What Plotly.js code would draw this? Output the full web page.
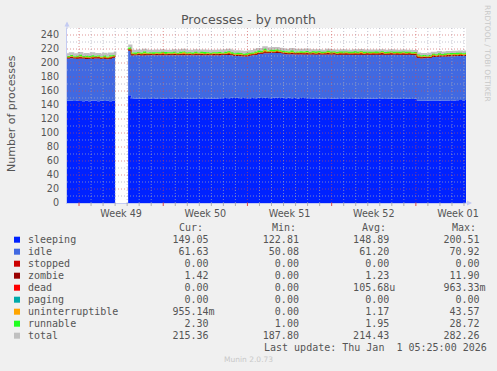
<!DOCTYPE html>
<html><head><meta charset="utf-8">
<script src="https://cdn.plot.ly/plotly-3.0.1.min.js"></script>
<style>html,body{margin:0;padding:0;background:#f0f0f0;}#chart{width:497px;height:371px;}</style>
</head><body><div id="chart"></div>
<script>
// ---------- legend / statistics ----------
const seriesNames = ['sleeping','idle','stopped','zombie','dead','paging','uninterruptible','runnable','total'];
const seriesColors = ['#0022ff','#4169e1','#cc0000','#990000','#ff0000','#00aaaa','#ffa500','#22ff22','#c0c0c0'];
const curVals = ['149.05','61.63','0.00','1.42','0.00','0.00','955.14m','2.30','215.36'];
const minVals = ['122.81','50.08','0.00','0.00','0.00','0.00','0.00','1.00','187.80'];
const avgVals = ['148.89','61.20','0.00','1.23','105.68u','0.00','1.17','1.95','214.43'];
const maxVals = ['200.51','70.92','0.00','11.90','963.33m','0.00','43.57','28.72','282.26'];
const statHeaders = ['Cur:','Min:','Avg:','Max:'];
const lastUpdate = 'Last update: Thu Jan  1 05:25:00 2026';

// ---------- axes ----------
const weekLabels = ['Week 49','Week 50','Week 51','Week 52','Week 01'];
const weekLabelDates = ['2025-12-03 12:00','2025-12-10 12:00','2025-12-17 12:00','2025-12-24 12:00','2025-12-31 12:00'];
const yTicks = [0,20,40,60,80,100,120,140,160,180,200,220,240];
const xRange = ['2025-11-29 00:00','2026-01-01 04:00'];
const yRange = [0,250];

// ---------- series (6-hour samples) ----------
const stepHours = 6;
const segAStart = '2025-11-29 00:00';
const segBStart = '2025-12-04 02:00';

const sleepingA = [146.2,146.0,145.6,146.4,145.8,145.2,146.0,145.5,146.3,145.9,145.4,146.1,145.7,146.0,145.3,146.6,146.8];
const idleA = [60.2,60.8,61.0,59.8,60.5,61.2,59.6,60.4,59.9,60.6,61.1,59.7,60.3,59.5,60.9,61.0,62.5];
const zombieA = [1.1,1.2,1.0,1.3,1.2,1.1,1.4,1.2,1.0,1.3,1.2,1.1,1.2,1.3,1.0,1.2,1.1];
const uninterruptibleA = [0.8,1.4,0.6,1.0,1.9,0.7,1.2,0.9,1.5,0.6,1.1,0.8,1.3,0.7,1.6,0.9,1.2];
const runnableA = [1.8,2.2,1.6,2.0,2.4,1.7,2.1,1.9,2.5,1.8,2.0,1.6,2.3,1.9,2.2,1.7,2.6];
const totalA = [212.0,213.4,211.9,212.3,214.0,211.6,212.5,211.8,213.5,212.1,212.6,211.2,212.9,211.3,213.2,213.3,216.5];

const sleepingB = [
 154.0,149.6,149.2,148.8,149.4,149.0,148.6,149.3,149.8,149.1,
 148.7,149.2,148.9,149.5,149.0,148.5,149.1,149.6,148.8,149.3,
 148.9,149.4,149.0,148.6,149.2,149.7,149.1,148.8,149.3,149.0,
 149.5,149.8,150.1,149.6,150.2,149.9,150.4,149.7,150.0,149.5,
 149.8,150.1,149.6,150.3,149.9,150.5,150.0,149.7,150.2,150.6,
 149.9,150.2,149.8,150.3,149.6,150.0,149.4,149.9,150.1,149.5,
 149.8,149.3,149.7,149.0,149.4,148.9,149.5,149.2,148.8,149.3,
 149.6,149.0,148.7,149.2,149.5,148.9,149.3,148.6,149.1,149.4,
 148.8,149.2,148.9,149.5,149.0,148.7,149.3,149.1,148.8,149.4,
 149.0,148.7,149.2,148.9,148.5,148.8,146.3,146.0,146.5,146.2,
 145.9,146.4,146.1,146.6,146.3,146.0,146.5,146.8,146.4,146.9,
 147.2,146.8,147.0,147.3];
const idleB = [
 63.5,61.1,61.7,62.3,61.4,61.9,62.5,61.6,61.2,62.0,
 62.4,61.8,62.3,61.5,62.1,62.7,61.9,61.3,62.4,61.7,
 62.2,61.6,62.1,62.6,61.8,61.2,61.9,62.3,61.5,62.0,
 61.3,61.6,61.2,61.7,60.9,60.2,59.6,59.9,59.3,59.8,
 60.4,60.9,61.8,62.4,63.2,63.5,64.1,64.6,64.0,63.8,
 64.3,63.2,62.6,62.1,62.8,62.3,62.9,62.4,62.0,62.7,
 62.2,62.8,62.3,63.0,62.6,63.2,62.5,62.9,63.3,62.6,
 62.2,62.9,63.2,62.6,62.3,63.0,62.5,63.2,62.7,62.4,
 63.0,62.6,63.0,62.3,62.8,63.1,62.5,62.8,63.2,62.4,
 62.8,63.1,62.5,62.9,63.0,62.4,60.7,60.5,60.3,60.8,
 61.2,62.2,62.6,62.4,62.9,63.3,62.8,62.9,63.4,63.1,
 62.8,63.2,63.0,62.8];
const zombieB = [
 1.5,1.2,1.1,1.3,1.2,1.0,1.4,1.2,1.3,1.1,
 1.2,1.4,1.1,1.2,1.3,1.0,1.2,1.5,1.1,1.3,
 1.2,1.1,1.4,1.2,1.0,1.3,1.2,1.1,1.4,1.2,
 1.3,1.1,1.2,1.5,1.2,1.0,1.3,1.2,1.4,1.1,
 1.2,1.3,1.1,1.4,1.2,1.5,1.3,1.1,1.2,1.4,
 1.1,1.2,1.3,1.0,1.2,1.4,1.1,1.3,1.2,1.1,
 1.4,1.2,1.0,1.3,1.2,1.1,1.4,1.2,1.3,1.0,
 1.2,1.3,1.1,1.4,1.2,1.0,1.3,1.2,1.1,1.4,
 1.2,1.1,1.3,1.2,1.5,1.1,1.2,1.3,1.0,1.2,
 1.3,1.1,1.2,1.4,1.2,1.1,1.3,1.5,1.2,1.1,
 1.2,1.4,1.1,1.3,1.2,1.0,1.3,1.2,1.4,1.1,
 1.3,1.2,1.4,1.4];
const uninterruptibleB = [
 0.8,1.2,0.6,1.5,0.9,2.1,0.7,1.1,0.5,1.4,
 0.9,1.8,0.6,1.2,0.8,1.6,0.7,1.0,2.3,0.8,
 1.1,0.6,1.4,0.9,1.7,0.7,1.2,0.5,1.3,0.9,
 1.5,0.8,1.1,2.0,0.7,1.2,0.9,1.6,0.6,1.0,
 1.3,0.7,1.8,0.9,1.1,2.4,0.8,1.3,0.6,1.5,
 1.0,0.7,1.4,0.9,1.9,0.6,1.2,0.8,1.1,1.7,
 0.7,1.3,0.9,1.5,0.6,1.1,2.0,0.8,1.2,0.7,
 1.4,0.9,1.6,0.6,1.0,1.3,0.8,2.2,0.7,1.1,
 0.9,1.5,0.7,1.2,1.8,0.6,1.0,1.4,0.8,1.3,
 0.7,1.6,0.9,1.1,0.6,1.4,1.9,0.8,1.2,0.7,
 1.0,1.5,0.8,1.3,0.6,1.1,1.7,0.9,1.2,0.8,
 1.4,0.9,1.1,1.0];
const runnableB = [
 2.5,1.9,2.3,1.7,2.1,2.6,1.8,2.0,2.4,1.6,
 2.2,1.9,2.7,1.8,2.0,2.3,1.7,2.5,1.9,2.1,
 1.8,2.4,2.0,1.6,2.2,2.8,1.9,2.1,1.7,2.3,
 2.0,1.8,2.5,1.9,2.2,1.7,2.4,2.0,1.8,2.6,
 2.1,1.9,2.3,2.7,2.0,2.4,1.8,2.2,2.9,2.1,
 1.9,2.3,1.7,2.1,2.5,1.8,2.0,2.4,1.9,2.2,
 1.7,2.1,2.6,1.9,2.3,1.8,2.0,2.5,1.7,2.2,
 2.0,2.4,1.8,2.2,1.9,2.6,2.1,1.7,2.3,1.9,
 2.2,1.8,2.5,2.0,1.7,2.3,2.1,1.9,2.4,1.8,
 2.1,1.9,2.3,1.7,2.2,2.0,1.8,2.4,2.1,1.9,
 2.3,1.7,2.0,2.5,1.9,2.2,1.8,2.4,2.0,2.6,
 2.1,1.9,2.3,2.2];
const totalB = [
 224.5,217.0,216.9,217.5,217.0,218.5,217.2,217.3,217.1,217.4,
 217.2,218.0,217.3,217.1,217.0,218.0,216.5,217.8,218.4,217.0,
 217.0,216.9,217.8,216.7,217.6,217.5,217.2,216.6,217.1,217.3,
 217.4,217.0,218.0,218.5,217.0,215.8,216.3,216.2,215.0,215.8,
 216.6,216.8,218.5,219.6,219.3,222.0,220.1,220.8,221.0,221.2,
 220.0,219.4,218.6,218.2,219.8,217.9,218.4,218.6,218.1,219.0,
 217.0,217.9,217.7,217.9,217.3,217.3,218.6,217.8,217.5,217.0,
 217.6,217.7,217.6,217.2,217.1,218.0,217.2,218.1,217.1,217.4,
 217.3,217.4,217.6,217.4,218.0,217.0,217.3,217.7,217.4,217.3,
 217.1,217.6,217.3,217.2,216.7,216.9,213.2,212.4,212.5,211.9,
 212.8,214.4,213.8,215.3,214.1,214.8,215.3,215.4,215.6,215.7,
 216.0,215.2,216.0,215.9];

// ---------- helpers ----------
function toMs(s){const [d,t]=s.split(' ');const [Y,M,D]=d.split('-').map(Number);const [h,m]=t.split(':').map(Number);return Date.UTC(Y,M-1,D,h,m);}
function fmt(ms){return new Date(ms).toISOString().slice(0,16).replace('T',' ');}
function times(start,n){const b=toMs(start);return Array.from({length:n},(_,i)=>fmt(b+i*stepHours*3600000));}

const L=67, R=31, T=28, B=168, W=497, H=371;
const PW=W-L-R, PH=H-T-B;
const px2x = p => (p-L)/PW;
const py2y = p => (H-B-p)/PH;

const xA = times(segAStart, sleepingA.length);
const xB = times(segBStart, sleepingB.length);

const traces = [];
// total line first so the stacked fills sit over it (only the part above the stack shows)
[[xA,totalA],[xB,totalB]].forEach(([x,y])=>{
  traces.push({type:'scatter',mode:'lines',x:x,y:y,line:{color:seriesColors[8],width:2.5,shape:'hv'},hoverinfo:'skip',showlegend:false});
});
function addStack(group,x,arrs){
  const spec=[[arrs[0],0,0],[arrs[1],1,0],[arrs[2],3,1],[arrs[3],6,0.6],[arrs[4],7,0]];
  spec.forEach(([y,ci,lw])=>{
    traces.push({type:'scatter',mode:'lines',x:x,y:y,stackgroup:group,
      line:{color:seriesColors[ci],width:lw,shape:'hv'},fillcolor:seriesColors[ci],
      hoverinfo:'skip',showlegend:false});
  });
}
addStack('a',xA,[sleepingA,idleA,zombieA,uninterruptibleA,runnableA]);
addStack('b',xB,[sleepingB,idleB,zombieB,uninterruptibleB,runnableB]);

// ---------- grid (drawn over the data like rrdtool) ----------
const MINOR='rgba(170,170,185,0.7)', MAJOR='rgba(205,80,80,0.6)', DOT='1px,2px';
const shapes=[];
const r0=toMs(xRange[0]), r1=toMs(xRange[1]);
for(let t=r0 - (r0%86400000); t<=r1; t+=86400000){
  if(t<=r0) continue;
  const sunday = new Date(t).getUTCDay()===0;
  shapes.push({type:'line',layer:'above',xref:'x',yref:'paper',x0:fmt(t),x1:fmt(t),y0:0,y1:1,
    line:{color:sunday?MAJOR:MINOR,width:1,dash:DOT}});
  shapes.push({type:'line',layer:'above',xref:'x',yref:'paper',x0:fmt(t),x1:fmt(t),y0:0,y1:-3/PH,
    line:{color:sunday?'rgba(220,60,60,0.9)':'rgba(150,150,150,0.7)',width:1}});
}
for(let v=10; v<=yRange[1]; v+=10){
  shapes.push({type:'line',layer:'above',xref:'paper',yref:'y',x0:0,x1:1,y0:v,y1:v,
    line:{color:(v%20===0)?MAJOR:MINOR,width:1,dash:DOT}});
}

// ---------- legend table ----------
const annotations=[];
const txt='#555555';
const rowY0=239.7, rowStep=12;
function splitVal(v){const last=v.slice(-1);return /[a-zA-Z]/.test(last)?[v.slice(0,-1),last]:[v,' '];}
function field(v){const [n,s]=splitVal(v);return n.padStart(6,' ')+s;}
seriesNames.forEach((name,i)=>{
  const y=rowY0+i*rowStep;
  shapes.push({type:'rect',xref:'paper',yref:'paper',x0:px2x(14),x1:px2x(20),y0:py2y(y+3),y1:py2y(y-3),
    fillcolor:seriesColors[i],line:{width:0},layer:'above'});
  const row=(name.padEnd(24,' ')+field(curVals[i])+' '.repeat(8)+field(minVals[i])+' '.repeat(8)+field(avgVals[i])+' '.repeat(8)+field(maxVals[i])).replace(/ /g,'\u00a0');
  annotations.push({xref:'paper',yref:'paper',x:px2x(26),y:py2y(y),xanchor:'left',yanchor:'middle',showarrow:false,
    text:row,font:{family:'DejaVu Sans Mono',size:10,color:txt}});
});
const headerX=[176.5,269.5,359.5,449.5];
statHeaders.forEach((h,i)=>{
  annotations.push({xref:'paper',yref:'paper',x:px2x(headerX[i]),y:py2y(227.5),xanchor:'left',yanchor:'middle',showarrow:false,
    text:h,font:{family:'DejaVu Sans Mono',size:10,color:txt}});
});
annotations.push({xref:'paper',yref:'paper',x:px2x(261.5),y:py2y(347.5),xanchor:'left',yanchor:'middle',showarrow:false,
  text:lastUpdate.replace(/ /g,'\u00a0'),font:{family:'DejaVu Sans Mono',size:10,color:txt}});

// titles and credits
annotations.push({xref:'paper',yref:'paper',x:px2x(248.5),y:py2y(19),xanchor:'center',yanchor:'middle',showarrow:false,
  text:'Processes - by month',font:{family:'DejaVu Sans',size:12.6,color:'#555555'}});
annotations.push({xref:'paper',yref:'paper',x:px2x(11),y:py2y(114),xanchor:'center',yanchor:'middle',showarrow:false,textangle:-90,
  text:'Number of processes',font:{family:'DejaVu Sans',size:11,color:'#555555'}});
annotations.push({xref:'paper',yref:'paper',x:px2x(487.5),y:py2y(53.5),xanchor:'center',yanchor:'middle',showarrow:false,textangle:90,
  text:'RRDTOOL / TOBI OETIKER',font:{family:'DejaVu Sans',size:7.5,color:'#c8c8c8'}});
annotations.push({xref:'paper',yref:'paper',x:px2x(248),y:py2y(359.5),xanchor:'center',yanchor:'middle',showarrow:false,
  text:'Munin 2.0.73',font:{family:'DejaVu Sans',size:7.5,color:'#c8c8c8'}});
// axis arrows
const AX='#c4cbf2';
annotations.push({xref:'paper',yref:'paper',x:0,y:py2y(21.5),ax:0,ay:8,text:'',showarrow:true,arrowhead:2,arrowsize:1,arrowwidth:1,arrowcolor:AX});
annotations.push({xref:'paper',yref:'paper',x:px2x(472),y:0,ax:-8,ay:0,text:'',showarrow:true,arrowhead:2,arrowsize:1,arrowwidth:1,arrowcolor:AX});

const layout={
  width:W,height:H,autosize:false,
  margin:{l:L,r:R,t:T,b:B,pad:0},
  paper_bgcolor:'#f0f0f0',plot_bgcolor:'#ffffff',
  showlegend:false,
  xaxis:{type:'date',range:xRange,tickmode:'array',tickvals:weekLabelDates,ticktext:weekLabels,
    showgrid:false,zeroline:false,ticks:'',showline:true,linecolor:AX,linewidth:1,
    tickfont:{family:'DejaVu Sans',size:9.6,color:'#555555'},ticklabelstandoff:1},
  yaxis:{range:yRange,tickmode:'array',tickvals:yTicks,showgrid:false,zeroline:false,ticks:'',
    showline:true,linecolor:AX,linewidth:1,
    tickfont:{family:'DejaVu Sans',size:9.6,color:'#555555'},ticklabelstandoff:5},
  shapes:shapes,annotations:annotations
};
Plotly.newPlot('chart',traces,layout,{staticPlot:true,displayModeBar:false});
</script></body></html>
